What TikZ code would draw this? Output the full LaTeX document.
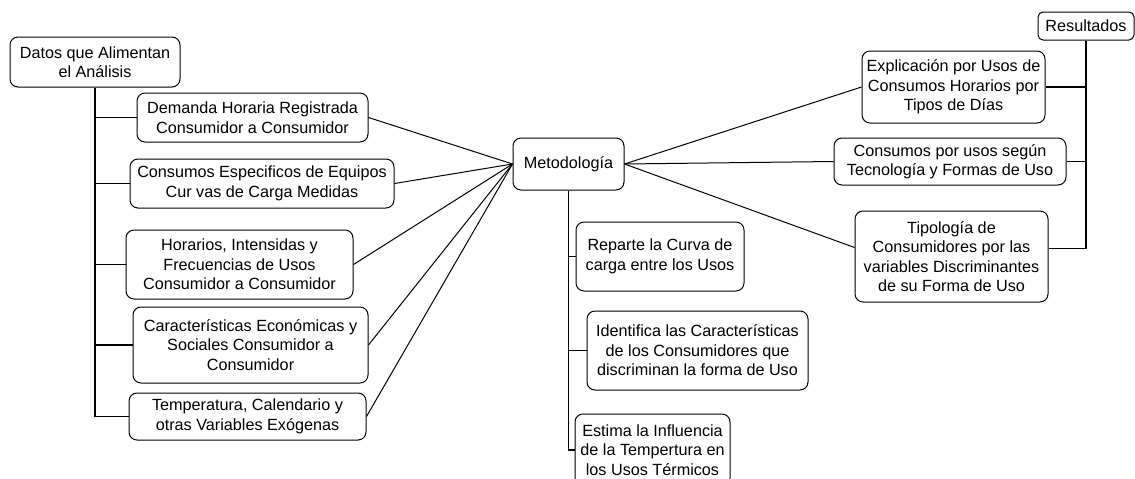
\documentclass[tikz,border=0pt]{standalone}
\usepackage{fontspec}
\setmainfont{Liberation Sans}
\begin{document}
\begin{tikzpicture}[x=1pt,y=-1pt,
  box/.style={draw=black, line width=1pt, rounded corners=8pt, align=center, inner sep=0pt,
    font=\fontsize{16.2}{19.5}\selectfont},
  link/.style={draw=black, line width=1pt},
  trunk/.style={draw=black, line width=1.3pt}]
\useasboundingbox (0,0) rectangle (1135,479);
\clip (0,0) rectangle (1135,479);
% left group
\node[box, minimum width=170pt, minimum height=50pt] (datos) at (95,62) {Datos que Alimentan\\el Análisis};
\node[box, minimum width=231pt, minimum height=49pt] (dem) at (252.5,117.5) {Demanda Horaria Registrada\\Consumidor a Consumidor};
\node[box, minimum width=264pt, minimum height=49pt] (cesp) at (262,183.5) {Consumos Especificos de Equipos\\Cur vas de Carga Medidas};
\node[box, minimum width=227pt, minimum height=69pt] (hor) at (239.5,264.5) {Horarios, Intensidas y\\Frecuencias de Usos\\Consumidor a Consumidor};
\node[box, minimum width=235pt, minimum height=76pt] (car) at (250.5,345) {Características Económicas y\\Sociales Consumidor a\\Consumidor};
\node[box, minimum width=237pt, minimum height=47pt] (tem) at (247.5,416.5) {Temperatura, Calendario y\\otras Variables Exógenas};
% center
\node[box, minimum width=111pt, minimum height=52pt] (met) at (568.5,164) {Metodología};
\node[box, minimum width=168pt, minimum height=69pt] (rep) at (660,256.5) {Reparte la Curva de\\carga entre los Usos};
\node[box, minimum width=221pt, minimum height=79pt] (ide) at (697.5,350.5) {Identifica las Características\\de los Consumidores que\\discriminan la forma de Uso};
\node[box, minimum width=155pt, minimum height=72pt] (est) at (652.5,450) {Estima la Influencia\\de la Tempertura en\\los Usos Térmicos};
% right group
\node[box, rounded corners=5pt, minimum width=96pt, minimum height=28pt] (res) at (1086,26) {Resultados};
\node[box, minimum width=183pt, minimum height=72pt] (exp) at (953.5,87) {Explicación por Usos de\\Consumos Horarios por\\Tipos de Días};
\node[box, minimum width=232pt, minimum height=47pt] (cpu) at (950,161.5) {Consumos por usos según\\Tecnología y Formas de Uso};
\node[box, minimum width=193pt, minimum height=91pt] (tip) at (951.5,256.5) {Tipología de\\Consumidores por las\\variables Discriminantes\\de su Forma de Uso};
% left trunk
\draw[trunk] (datos.south) |- (dem.west);
\draw[trunk] (datos.south) |- (cesp.west);
\draw[trunk] (datos.south) |- (hor.west);
\draw[trunk] (datos.south) |- (car.west);
\draw[trunk] (datos.south) |- (tem.west);
% center trunk
\draw[trunk] (met.south) |- (rep.west);
\draw[trunk] (met.south) |- (ide.west);
\draw[trunk] (met.south) |- (est.west);
% right trunk
\draw[trunk] (res.south) |- (exp.east);
\draw[trunk] (res.south) |- (cpu.east);
\draw[trunk] (res.south) |- ([yshift=8pt]tip.east);
% links to Metodología
\draw[link] (dem.east) -- (met.west);
\draw[link] (cesp.east) -- (met.west);
\draw[link] (hor.east) -- (met.west);
\draw[link] (car.east) -- (met.west);
\draw[link] (tem.east) -- (met.west);
\draw[link] (met.east) -- (exp.west);
\draw[link] (met.east) -- (cpu.west);
\draw[link] (met.east) -- ([yshift=9pt]tip.west);
\end{tikzpicture}
\end{document}
